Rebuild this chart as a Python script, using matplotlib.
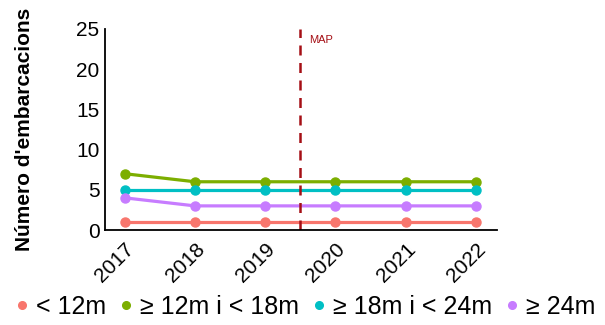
import matplotlib
matplotlib.use("Agg")
import matplotlib.pyplot as plt

plt.rcParams['font.family'] = ['Liberation Sans', 'DejaVu Sans']

# Dades
anys = [2017, 2018, 2019, 2020, 2021, 2022]
menys12 = [1, 1, 1, 1, 1, 1]
de12a18 = [7, 6, 6, 6, 6, 6]
de18a24 = [5, 5, 5, 5, 5, 5]
mes24 = [4, 3, 3, 3, 3, 3]
etiquetes = ["< 12m", "≥ 12m i < 18m", "≥ 18m i < 24m", "≥ 24m"]
colors = ["#F8766D", "#7CAE00", "#00BFC4", "#C77CFF"]
any_map = 2019.5

fig = plt.figure(figsize=(6.05, 3.25), dpi=100)
ax = fig.add_axes([0.1736, 0.2923, 0.648, 0.6185])

series = [menys12, de12a18, de18a24, mes24]
for vals, lab, col in zip(series, etiquetes, colors):
    ax.plot(anys, vals, color=col, linewidth=2.3, marker="o", markersize=6.5, label=lab)

ax.axvline(any_map, color="#A50F15", linestyle=(0, (4, 3)), linewidth=1.8)
ax.text(any_map + 0.12, 24.3, "MAP", color="#A50F15", fontsize=8, va="top", ha="left")

ax.set_xlim(2016.72, 2022.3)
ax.set_ylim(0, 25)
ax.set_yticks([0, 5, 10, 15, 20, 25])
ax.set_xticks(anys)
ax.set_xticklabels([str(a) for a in anys], rotation=45, ha="right", rotation_mode="anchor")
ax.tick_params(axis="both", length=0, labelsize=15, pad=4, colors="black")
ax.tick_params(axis="x", pad=7)
ax.spines["top"].set_visible(False)
ax.spines["right"].set_visible(False)
ax.spines["left"].set_linewidth(1.3)
ax.spines["bottom"].set_linewidth(1.3)
ax.set_ylabel("Número d'embarcacions", fontsize=15, fontweight="bold", labelpad=30)

handles = [plt.Line2D([], [], color=c, marker="o", linestyle="none", markersize=5.5) for c in colors]
fig.legend(handles, etiquetes, loc="center", bbox_to_anchor=(0.5, 0.055), ncol=4, frameon=False,
           fontsize=18, handletextpad=0.05, columnspacing=0.3, handlelength=1.0)

fig.savefig("out.png", dpi=100)
